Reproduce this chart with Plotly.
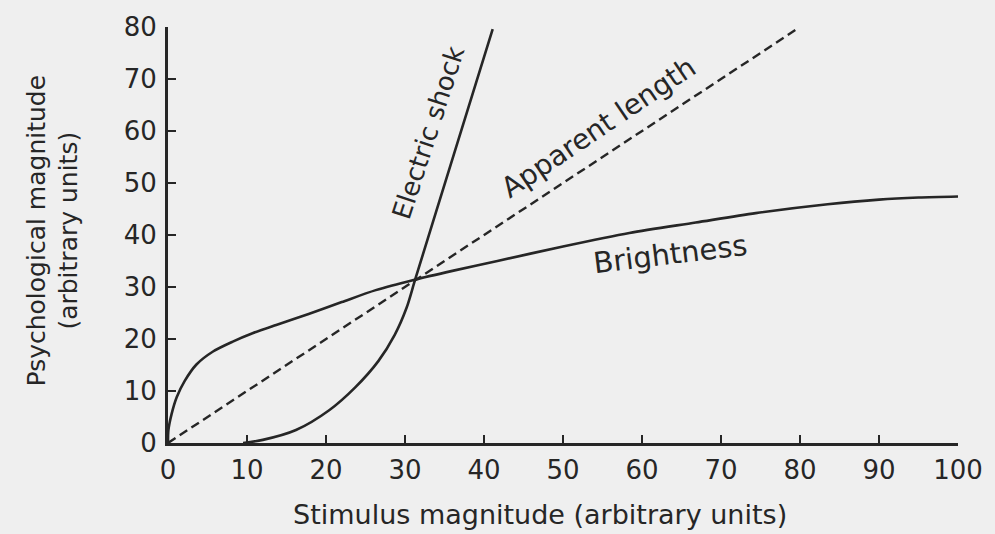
import plotly.graph_objects as go

# ---- data ----
brightness_x = [0, 0.05, 0.46, 1.1, 2.1, 3.6, 5.7, 8.2, 10.7, 13.7, 17.8, 22, 26.3, 31.2, 36, 41.7,
                50, 58.4, 66.8, 74.4, 83.5, 90, 95, 100]
brightness_y = [0, 2.5, 5.6, 8.8, 11.9, 15.1, 17.6, 19.5, 21.1, 22.7, 24.8, 27.1, 29.4, 31.4, 33.1, 35,
                37.8, 40.4, 42.4, 44.2, 45.9, 46.8, 47.2, 47.4]

shock_x = [9.5, 12, 16.2, 20.4, 23.7, 26.6, 28.7, 30.2, 31.3, 36, 41.1]
shock_y = [0, 0.6, 2.5, 6.3, 10.7, 15.7, 20.8, 26, 31.5, 54.6, 79.6]

length_x = [0, 79.5]
length_y = [0, 79.5]

x_ticks = [0, 10, 20, 30, 40, 50, 60, 70, 80, 90, 100]
y_ticks = [0, 10, 20, 30, 40, 50, 60, 70, 80]

x_title = "Stimulus magnitude (arbitrary units)"
y_title = "Psychological magnitude<br>(arbitrary units)"

INK = "#262626"
BG = "#efefef"
FONT = "DejaVu Sans"

fig = go.Figure()
fig.add_trace(go.Scatter(x=brightness_x, y=brightness_y, mode="lines",
                         line=dict(color=INK, width=2.6, shape="spline", smoothing=0.8),
                         name="Brightness", showlegend=False, hoverinfo="skip"))
fig.add_trace(go.Scatter(x=shock_x, y=shock_y, mode="lines",
                         line=dict(color=INK, width=2.6, shape="spline", smoothing=0.8),
                         name="Electric shock", showlegend=False, hoverinfo="skip"))
fig.add_trace(go.Scatter(x=length_x, y=length_y, mode="lines",
                         line=dict(color=INK, width=2.4, dash="9px,5px"),
                         name="Apparent length", showlegend=False, hoverinfo="skip"))

fig.add_annotation(x=32.9, y=59.7, text="Electric shock", textangle=-72, showarrow=False,
                   font=dict(family=FONT, size=26, color=INK), xanchor="center", yanchor="middle")
fig.add_annotation(x=54.5, y=60.7, text="Apparent length", textangle=-34, showarrow=False,
                   font=dict(family=FONT, size=28, color=INK), xanchor="center", yanchor="middle")
fig.add_annotation(x=63.6, y=36.4, text="Brightness", textangle=-7, showarrow=False,
                   font=dict(family=FONT, size=29, color=INK), xanchor="center", yanchor="middle")

# axis titles
fig.add_annotation(x=0.471, y=-0.172, xref="paper", yref="paper", text=x_title,
                   showarrow=False, font=dict(family=FONT, size=27, color=INK),
                   xanchor="center", yanchor="middle")
fig.add_annotation(x=-0.146, y=0.51, xref="paper", yref="paper", text=y_title,
                   textangle=-90, showarrow=False, font=dict(family=FONT, size=25, color=INK),
                   xanchor="center", yanchor="middle")

axis_common = dict(showgrid=False, zeroline=False, showline=True, linecolor=INK, linewidth=3,
                   ticks="inside", ticklen=8, tickwidth=2, tickcolor=INK,
                   tickfont=dict(family=FONT, size=26, color=INK), fixedrange=True,
                   ticklabeloverflow="allow")

fig.update_xaxes(range=[0, 100], tickvals=x_ticks, ticktext=[str(v) for v in x_ticks],
                 ticklabelstandoff=2, **axis_common)
fig.update_yaxes(range=[0, 80], tickvals=y_ticks, ticktext=[str(v) for v in y_ticks],
                 ticklabelstandoff=3, **axis_common)

fig.update_layout(width=995, height=534, margin=dict(l=168, r=31, t=21, b=91),
                  paper_bgcolor=BG, plot_bgcolor=BG, showlegend=False, hovermode=False)

# remove the page's default 8px body margin so the figure fills the window
fig.write_html("out.html",
               config={"displayModeBar": False, "staticPlot": True},
               post_script="document.body.style.margin='0';"
                           "document.body.style.backgroundColor='%s';"
                           "document.documentElement.style.backgroundColor='%s';" % (BG, BG))
